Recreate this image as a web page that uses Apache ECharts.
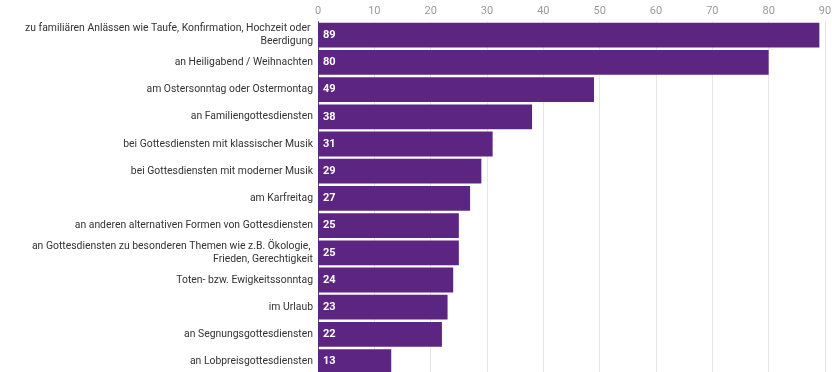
<!DOCTYPE html>
<html><head><meta charset="utf-8">
<script src="https://cdn.jsdelivr.net/npm/echarts@6/dist/echarts.min.js"></script>
<style>html,body{margin:0;padding:0;background:#fff}#c{width:832px;height:372px}</style>
</head><body><div id="c"></div>
<script>
const categories = [
  "zu familiären Anlässen wie Taufe, Konfirmation, Hochzeit oder Beerdigung",
  "an Heiligabend / Weihnachten",
  "am Ostersonntag oder Ostermontag",
  "an Familiengottesdiensten",
  "bei Gottesdiensten mit klassischer Musik",
  "bei Gottesdiensten mit moderner Musik",
  "am Karfreitag",
  "an anderen alternativen Formen von Gottesdiensten",
  "an Gottesdiensten zu besonderen Themen wie z.B. Ökologie, Frieden, Gerechtigkeit",
  "Toten- bzw. Ewigkeitssonntag",
  "im Urlaub",
  "an Segnungsgottesdiensten",
  "an Lobpreisgottesdiensten"
];
const values = [89, 80, 49, 38, 31, 29, 27, 25, 25, 24, 23, 22, 13];
const xMin = 0, xMax = 90, xStep = 10;

const chart = echarts.init(document.getElementById('c'), null, {renderer: 'canvas'});
chart.setOption({
  animation: false,
  grid: {left: 318, right: 7, top: 21.6, height: 353.6, containLabel: false, outerBoundsMode: 'none'},
  xAxis: {
    type: 'value', position: 'top', min: xMin, max: xMax, interval: xStep,
    axisLine: {show: false}, axisTick: {show: false},
    axisLabel: {color: '#9a9a9a', fontSize: 11, fontFamily: 'Roboto', margin: 5},
    splitLine: {lineStyle: {color: '#e6e6e6', width: 1}}
  },
  yAxis: {
    type: 'category', inverse: true, data: categories,
    axisLine: {show: true, lineStyle: {color: '#555', width: 1}},
    axisTick: {show: false},
    axisLabel: {color: '#333', fontSize: 10.4, fontFamily: 'Roboto', margin: 5,
      width: 300, overflow: 'break', lineHeight: 13, align: 'right'}
  },
  series: [{
    type: 'bar', data: values, barCategoryGap: '9%',
    itemStyle: {color: '#5c2581'},
    label: {show: true, position: 'insideLeft', distance: 5, color: '#fff',
      fontWeight: 'bold', fontSize: 11, fontFamily: 'Roboto'}
  }]
});
</script></body></html>
